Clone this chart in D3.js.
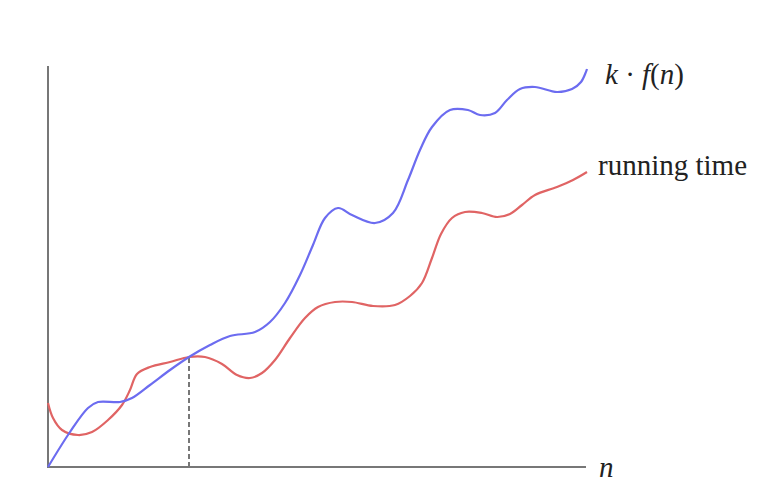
<!DOCTYPE html>
<html>
<head>
<meta charset="utf-8">
<script src="https://cdn.jsdelivr.net/npm/d3@7"></script>
<style>
  body { margin: 0; background: #fff; }
  text { font-family: "Liberation Serif", "DejaVu Serif", serif; fill: #222; }
</style>
</head>
<body>
<div id="chart"></div>
<script>
// k*f(n) curve (blue)
const kfnN = [0, 22, 40, 50, 72, 84, 102, 122, 141, 162, 182, 207, 222, 237, 252, 265, 277, 290, 304, 327, 345, 360, 372, 384, 402, 420, 432, 447, 459, 472, 487, 509, 524, 533, 539];
const kfnT = [0, 35, 59, 65, 65, 69, 82, 97, 110, 122, 131, 135, 145, 164, 192, 222, 249, 259, 252, 244, 254, 287, 317, 340, 357, 357, 352, 354, 367, 378, 380, 375, 378, 385, 398];

// running time curve (red)
const runN = [0, 5, 14, 30, 44, 60, 74, 82, 89, 102, 122, 141, 157, 174, 189, 202, 214, 227, 242, 257, 270, 287, 304, 325, 347, 362, 374, 384, 393, 404, 417, 434, 449, 462, 474, 487, 509, 525, 539];
const runT = [64, 49, 37, 32, 35, 47, 62, 77, 93, 100, 105, 110, 110, 103, 92, 89, 94, 107, 129, 149, 160, 165, 165, 161, 162, 171, 184, 209, 233, 249, 255, 254, 250, 253, 262, 272, 280, 287, 295];

// where the two curves meet (n0)
const crossN = 141;
const crossT = 110;

const width = 782;
const height = 496;

const svg = d3.select("#chart").append("svg")
  .attr("width", width)
  .attr("height", height);

const x = d3.scaleLinear().domain([0, 540]).range([48, 588]);
const y = d3.scaleLinear().domain([0, 400]).range([467, 67]);

// axes
svg.append("line")
  .attr("x1", x(0)).attr("y1", y(0))
  .attr("x2", x(0)).attr("y2", y(401))
  .attr("stroke", "#777").attr("stroke-width", 2);
svg.append("line")
  .attr("x1", x(0) - 1).attr("y1", y(0))
  .attr("x2", x(538)).attr("y2", y(0))
  .attr("stroke", "#777").attr("stroke-width", 2);

// dashed n0 marker
svg.append("line")
  .attr("x1", x(crossN)).attr("y1", y(0))
  .attr("x2", x(crossN)).attr("y2", y(crossT))
  .attr("stroke", "#777").attr("stroke-width", 2)
  .attr("stroke-dasharray", "5,3");

const line = d3.line()
  .x(d => x(d[0]))
  .y(d => y(d[1]))
  .curve(d3.curveCatmullRom.alpha(0.5));

svg.append("path")
  .datum(runN.map((n, i) => [n, runT[i]]))
  .attr("d", line)
  .attr("fill", "none")
  .attr("stroke", "#e06464")
  .attr("stroke-width", 2.2);

svg.append("path")
  .datum(kfnN.map((n, i) => [n, kfnT[i]]))
  .attr("d", line)
  .attr("fill", "none")
  .attr("stroke", "#6c6cf0")
  .attr("stroke-width", 2.2);

// labels
const kLabel = svg.append("text")
  .attr("x", 605).attr("y", 84)
  .attr("font-size", 29);
kLabel.append("tspan").attr("font-style", "italic").text("k");
kLabel.append("tspan").text(" · ");
kLabel.append("tspan").attr("font-style", "italic").text("f");
kLabel.append("tspan").text("(");
kLabel.append("tspan").attr("font-style", "italic").text("n");
kLabel.append("tspan").text(")");

svg.append("text")
  .attr("x", 598).attr("y", 175)
  .attr("font-size", 29)
  .text("running time");

svg.append("text")
  .attr("x", 599).attr("y", 477)
  .attr("font-size", 29)
  .attr("font-style", "italic")
  .text("n");
</script>
</body>
</html>
